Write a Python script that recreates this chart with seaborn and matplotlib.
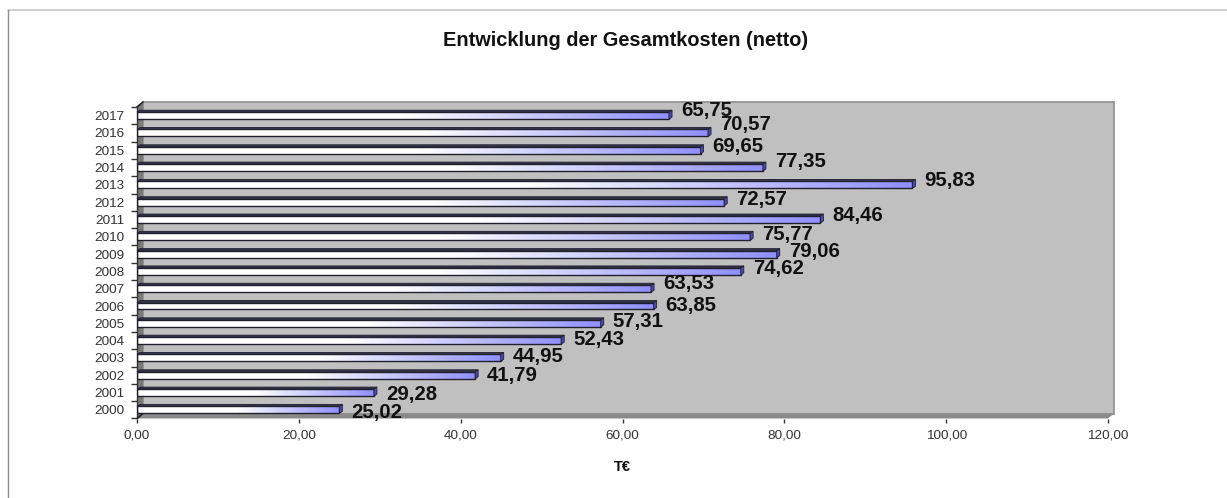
import numpy as np
import pandas as pd
import seaborn as sns
import matplotlib.pyplot as plt
from matplotlib.colors import LinearSegmentedColormap
from matplotlib.lines import Line2D
from matplotlib.patches import Polygon

years = ["2000", "2001", "2002", "2003", "2004", "2005", "2006", "2007", "2008",
         "2009", "2010", "2011", "2012", "2013", "2014", "2015", "2016", "2017"]
costs = [25.02, 29.28, 41.79, 44.95, 52.43, 57.31, 63.85, 63.53, 74.62,
         79.06, 75.77, 84.46, 72.57, 95.83, 77.35, 69.65, 70.57, 65.75]
xticks = [0, 20, 40, 60, 80, 100, 120]

# the labels sit a bit off their bars in the original, nudge in pixels (2000 first)
label_nudge = [-2.5, -1.8, -0.5, 1.5, 1, 1.5, 0.5, 5, 2.5, 2.5, 2.5, 3.5, 2.5, 4.5, 6, 3.5, 8.5, 5]

W, H = 1227, 498
DX, DY = 6, 5  # 3d depth of the chart box in pixels
BAR_DX, BAR_DY = 3, 2  # 3d depth of a bar

sns.set_theme(style="white")
plt.rcParams["font.family"] = ["Liberation Sans", "DejaVu Sans"]

fig = plt.figure(figsize=(W / 100, H / 100), dpi=100, facecolor="white")
ax = fig.add_axes([137 / W, 1 - 418.5 / H, 971 / W, 311.5 / H])
ax.patch.set_visible(False)

df = pd.DataFrame({"year": years, "cost": costs})
sns.barplot(data=df, x="cost", y="year", order=years[::-1], orient="h", width=0.4,
            color="white", saturation=1, ax=ax)
ax.set_xlim(0, 120)
ax.set_ylim(17.5, -0.5)
px_x = 120 / 971
px_y = 18 / 311.5

# chart box: back wall, left wall, floor
dxa, dya = DX / 971, DY / 311.5
ax.add_patch(Polygon([(dxa, dya), (1 + dxa, dya), (1 + dxa, 1 + dya), (dxa, 1 + dya)],
                     transform=ax.transAxes, fc="#c0c0c0", ec="#8e8e8e", lw=1.2,
                     clip_on=False, zorder=0.5))
ax.add_patch(Polygon([(0, 0), (dxa, dya), (dxa, 1 + dya), (0, 1)],
                     transform=ax.transAxes, fc="#7a7a7a", ec="none",
                     clip_on=False, zorder=0.6))
ax.add_patch(Polygon([(0, 0), (1, 0), (1 + dxa, dya), (dxa, dya)],
                     transform=ax.transAxes, fc="#8a8a8a", ec="none",
                     clip_on=False, zorder=0.6))
for y in (0, 1):
    ax.add_line(Line2D([0, dxa], [y, y + dya], transform=ax.transAxes, color="#222222",
                       lw=1.2, clip_on=False, zorder=0.7))

# bars with gradient and 3d faces
cmap = LinearSegmentedColormap.from_list("bar", ["#ffffff", "#ffffff", "#9090ff"])
grad = np.linspace(0, 1, 256).reshape(1, -1)
for bar in ax.containers[0]:
    x1 = bar.get_width()
    y0, y1 = bar.get_y(), bar.get_y() + bar.get_height()
    ax.imshow(grad, extent=(0, x1, y1, y0), aspect="auto", cmap=cmap, zorder=2,
              interpolation="bilinear")
    bar.set(facecolor="none", edgecolor="#20202c", linewidth=1.0, zorder=3)
    ddx, ddy = BAR_DX * px_x, BAR_DY * px_y
    ax.add_patch(Polygon([(0, y0), (x1, y0), (x1 + ddx, y0 - ddy), (ddx, y0 - ddy)],
                         fc="#34344e", ec="#20202c", lw=0.6, zorder=3, clip_on=False))
    ax.add_patch(Polygon([(x1, y0), (x1 + ddx, y0 - ddy), (x1 + ddx, y1 - ddy), (x1, y1)],
                         fc="#4a4aa8", ec="#20202c", lw=0.6, zorder=3, clip_on=False))
ax.set_xlim(0, 120)
ax.set_ylim(17.5, -0.5)

# value labels
for i, (cost, nudge) in enumerate(zip(costs, label_nudge)):
    ax.annotate(f"{cost:.2f}".replace(".", ","), (cost, 17 - i),
                xytext=(12 * 0.72, nudge * 0.72), textcoords="offset points",
                ha="left", va="center", fontsize=14.7, fontweight="bold",
                color="#111111", zorder=5, annotation_clip=False)

# axes
sns.despine(ax=ax, top=True, right=True)
for name in ("left", "bottom"):
    ax.spines[name].set_color("#333333")
    ax.spines[name].set_linewidth(1.0)
ax.spines["bottom"].set_visible(False)
ax.set_xticks(xticks)
ax.set_xticklabels([f"{t:.2f}".replace(".", ",") for t in xticks])
ax.tick_params(axis="x", length=3, width=1, color="#333333", labelsize=9.7,
               labelcolor="#333333", pad=5, bottom=True)
ax.set_yticks(np.arange(-0.5, 18, 1), minor=True)
ax.tick_params(axis="y", which="minor", length=4, width=1, color="#333333", left=True)
ax.tick_params(axis="y", which="major", length=0, labelsize=9.7, labelcolor="#333333", pad=9)
ax.set_ylabel("")
ax.set_xlabel("T€", fontsize=10.5, fontweight="bold", color="#111111", labelpad=13)

fig.text(626 / W, 1 - 41 / H, "Entwicklung der Gesamtkosten (netto)", ha="center", va="center",
         fontsize=14.45, fontweight="bold", color="#111111")

# frame of the pasted screenshot
fig.add_artist(Line2D([8 / W, 1], [1 - 10 / H, 1 - 10 / H], color="#c8c8c8", lw=1.2))
fig.add_artist(Line2D([8 / W, 8 / W], [0, 1 - 10 / H], color="#909090", lw=1.0))

fig.savefig("out.png", dpi=100)
